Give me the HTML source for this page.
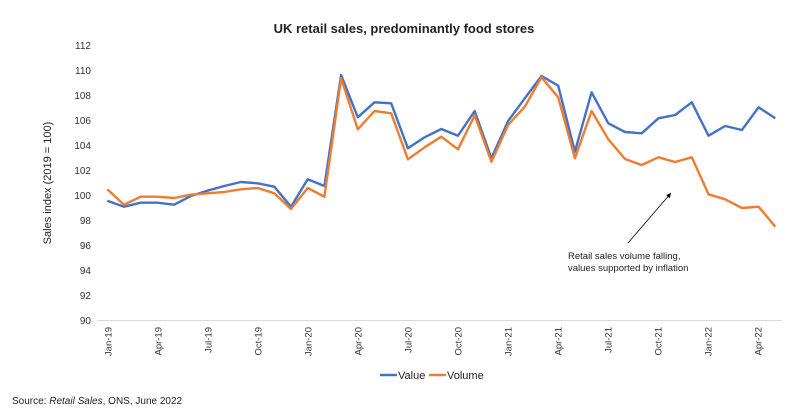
<!DOCTYPE html>
<html><head><meta charset="utf-8"><style>
body{margin:0;background:#fff;}
svg{display:block;font-family:"Liberation Sans",Calibri,sans-serif;}
</style></head><body>
<svg width="800" height="416" viewBox="0 0 800 416">
<defs><marker id="ah" markerWidth="8" markerHeight="8" refX="6" refY="3" orient="auto"><path d="M0,0 L6,3 L0,6 Z" fill="#000"/></marker></defs>
<text x="404" y="33" text-anchor="middle" font-size="13" font-weight="bold" fill="#222">UK retail sales, predominantly food stores</text>
<g font-size="10" fill="#333" text-anchor="end">
<text x="91" y="49">112</text><text x="91" y="74">110</text><text x="91" y="99">108</text><text x="91" y="124">106</text><text x="91" y="149">104</text><text x="91" y="174">102</text><text x="91" y="199">100</text><text x="91" y="224">98</text><text x="91" y="249">96</text><text x="91" y="274">94</text><text x="91" y="299">92</text><text x="91" y="324">90</text>
</g>
<text transform="translate(51,183) rotate(-90)" text-anchor="middle" font-size="11" fill="#222">Sales index (2019 = 100)</text>
<line x1="97" y1="320.5" x2="782" y2="320.5" stroke="#d9d9d9" stroke-width="1"/>
<g font-size="9.5" fill="#333" text-anchor="end">
<text transform="translate(111.5,327) rotate(-90)">Jan-19</text>
<text transform="translate(161.5,327) rotate(-90)">Apr-19</text>
<text transform="translate(211.5,327) rotate(-90)">Jul-19</text>
<text transform="translate(261.5,327) rotate(-90)">Oct-19</text>
<text transform="translate(311.5,327) rotate(-90)">Jan-20</text>
<text transform="translate(361.5,327) rotate(-90)">Apr-20</text>
<text transform="translate(411.5,327) rotate(-90)">Jul-20</text>
<text transform="translate(461.5,327) rotate(-90)">Oct-20</text>
<text transform="translate(511.5,327) rotate(-90)">Jan-21</text>
<text transform="translate(561.5,327) rotate(-90)">Apr-21</text>
<text transform="translate(611.5,327) rotate(-90)">Jul-21</text>
<text transform="translate(661.5,327) rotate(-90)">Oct-21</text>
<text transform="translate(711.5,327) rotate(-90)">Jan-22</text>
<text transform="translate(761.5,327) rotate(-90)">Apr-22</text>
</g>
<polyline fill="none" stroke="#4472C4" stroke-width="2.4" stroke-linejoin="round" points="107.3,200.7 124,206.7 140.7,202.7 157.4,202.7 174.1,204.7 190.8,196 207.5,190.7 224.2,186 240.9,182 257.6,183.3 274.3,186.7 291,206.7 307.7,179.3 324.4,186 341.1,75 357.8,117.3 374.5,102.3 391.2,103.3 407.9,148.3 424.6,137.3 441.3,129 458,135.7 474.7,111 491.4,158.3 508.1,121 524.8,98.3 541.5,76 558.2,85.7 574.9,151.7 591.6,92.3 608.3,123.3 625,132 641.7,133.3 658.4,118.3 675.1,115 691.8,102.3 708.5,135.7 725.2,126 741.9,130 758.6,107.3 775.3,118.3"/>
<polyline fill="none" stroke="#ED7D31" stroke-width="2.4" stroke-linejoin="round" points="107.3,189.3 124,204.7 140.7,196.7 157.4,196.7 174.1,198 190.8,194.7 207.5,193.3 224.2,192 240.9,189.3 257.6,188 274.3,193.3 291,209 307.7,188 324.4,196.7 341.1,78.3 357.8,129.3 374.5,111 391.2,113.3 407.9,159.3 424.6,147.3 441.3,136.7 458,149.3 474.7,115.3 491.4,161.7 508.1,125 524.8,106.7 541.5,77.3 558.2,97.3 574.9,158.3 591.6,111 608.3,139.3 625,159 641.7,165 658.4,157.3 675.1,162 691.8,157.3 708.5,194.3 725.2,199.3 741.9,208 758.6,206.7 775.3,226.7"/>
<line x1="628" y1="243" x2="671" y2="193" stroke="#000" stroke-width="0.8" marker-end="url(#ah)"/>
<text x="568" y="259" font-size="9.5" fill="#222">Retail sales volume falling,</text>
<text x="568" y="271" font-size="9.5" fill="#222">values supported by inflation</text>
<line x1="380" y1="375" x2="397" y2="375" stroke="#4472C4" stroke-width="2.4"/>
<text x="398" y="379" font-size="11" fill="#222">Value</text>
<line x1="429" y1="375" x2="446" y2="375" stroke="#ED7D31" stroke-width="2.4"/>
<text x="447" y="379" font-size="11" fill="#222">Volume</text>
<text x="12" y="404" font-size="10" fill="#222">Source: <tspan font-style="italic">Retail Sales</tspan>, ONS, June 2022</text>
</svg>
</body></html>
